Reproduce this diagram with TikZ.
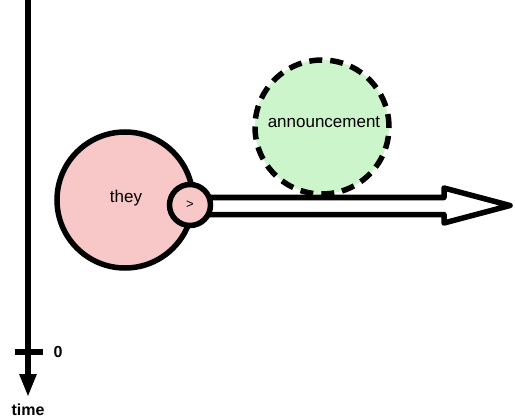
\documentclass[tikz,border=0pt]{standalone}
\usepackage{fontspec}
\setmainfont{Liberation Sans}
\usetikzlibrary{arrows.meta}
\definecolor{pinkfill}{HTML}{F8C8C8}
\definecolor{greenfill}{HTML}{CCF5CC}
\begin{document}
\begin{tikzpicture}[x=1pt,y=-1pt,
  thick line/.style={line width=5.5pt},
  lbl/.style={font=\fontsize{17}{19}\selectfont},
  boldlbl/.style={font=\fontsize{16}{18}\selectfont\bfseries}]
\useasboundingbox (0,0) rectangle (515,420);
% time axis
\coordinate (axtop) at (28,0);
\coordinate (axbot) at (28,397);
\draw[thick line,-{Triangle[length=23pt,width=16pt]}] (axtop) -- (axbot);
\coordinate (tickL) at (15,352);
\coordinate (tickR) at (43,352);
\draw[thick line] (tickL) -- (tickR);
\node[boldlbl] (zero) at (58,352) {0};
\node[boldlbl] (time) at (28,410) {time};
% big pink circle
\node[circle,draw,thick line,fill=pinkfill,minimum size=136pt,inner sep=0pt,lbl] (they) at (125,200) {};
\node[lbl] (theylbl) at (126,198) {they};
% hollow arrow
\draw[thick line,fill=white,line join=round]
  (190,197.5) -- (444,197.5) -- (444,188) -- (510,205.5) -- (444,223) -- (444,214.5) -- (190,214.5) -- cycle;
% small circle
\node[circle,draw,thick line,fill=pinkfill,minimum size=41pt,inner sep=0pt,font=\fontsize{13}{15}\selectfont] (gt) at (190,205) {>};
% green dashed circle
\node[circle,draw,thick line,dash pattern=on 13pt off 8pt,fill=greenfill,minimum size=134pt,inner sep=0pt] (ann) at (322,127) {};
\node[lbl] (annlbl) at (324,122) {announcement};
\end{tikzpicture}
\end{document}
